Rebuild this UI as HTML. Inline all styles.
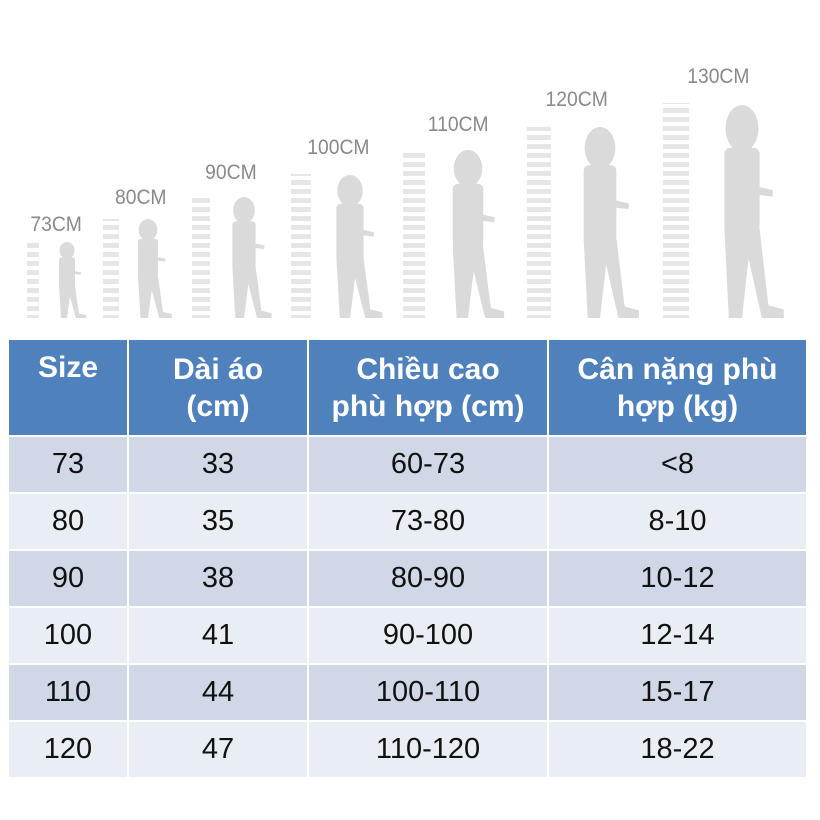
<!DOCTYPE html>
<html><head><meta charset="utf-8"><style>
body{margin:0;width:820px;height:820px;background:#fff;overflow:hidden;position:relative;font-family:"Liberation Sans",sans-serif}
svg{position:absolute;left:0;top:0}
table{position:absolute;left:9px;top:340px;border-collapse:separate;border-spacing:2px 2px;margin:-2px}
td,th{text-align:center;padding:0;font-size:29px;color:#111}
th{background:#4f81bd;color:#fff;font-weight:bold;font-size:30px;height:95px;line-height:37px;vertical-align:middle}
th.t{vertical-align:top;padding-top:9px;height:86px}
tr.a td{background:#d0d8e8}
tr.b td{background:#e9edf4}
td{height:55px}
</style></head><body>
<svg width="820" height="340" viewBox="0 0 820 340">
<defs>
<g id="kid" fill="#dadada">
<ellipse cx="0" cy="11" rx="7.5" ry="11"/>
<rect x="-8" y="20" width="16" height="40" rx="3"/>
<path d="M6 38 L14 40 L14 43 L6 42 Z"/>
<path d="M-8 58 L8 58 L12 94 L19 96 L19 100 L9 100 L3 72 L0 100 L-6 100 Z"/>
</g>
<pattern id="dash" width="40" height="9" patternUnits="userSpaceOnUse">
<rect x="0" y="0" width="40" height="5" fill="#e6e6e6"/>
</pattern>
</defs>
<g font-family="Liberation Sans, sans-serif" font-size="21" fill="#8a8a8a" transform="scale(0.92,1)">
<text x="33" y="231">73CM</text>
<text x="125" y="204">80CM</text>
<text x="223" y="179">90CM</text>
<text x="334" y="154">100CM</text>
<text x="465" y="131">110CM</text>
<text x="593" y="106">120CM</text>
<text x="747" y="83">130CM</text>
</g>
<g fill="url(#dash)">
<rect x="27" y="242" width="12" height="76"/>
<rect x="103" y="219" width="16" height="99"/>
<rect x="192" y="197" width="18" height="121"/>
<rect x="291" y="174" width="20" height="144"/>
<rect x="403" y="150" width="22" height="168"/>
<rect x="527" y="127" width="24" height="191"/>
<rect x="663" y="103" width="26" height="215"/>
</g>
<use href="#kid" transform="translate(67,242) scale(1.0,0.76)"/>
<use href="#kid" transform="translate(148,219) scale(1.25,0.99)"/>
<use href="#kid" transform="translate(244,197) scale(1.45,1.21)"/>
<use href="#kid" transform="translate(350,175) scale(1.7,1.43)"/>
<use href="#kid" transform="translate(468,150) scale(1.9,1.68)"/>
<use href="#kid" transform="translate(600,127) scale(2.05,1.91)"/>
<use href="#kid" transform="translate(742,105) scale(2.2,2.13)"/>
</svg>
<table>
<tr><th class="t" style="width:118px">Size</th><th style="width:178px">Dài áo<br>(cm)</th><th style="width:238px">Chiều cao<br>phù hợp (cm)</th><th style="width:257px">Cân nặng phù<br>hợp (kg)</th></tr>
<tr class="a"><td>73</td><td>33</td><td>60-73</td><td>&lt;8</td></tr>
<tr class="b"><td>80</td><td>35</td><td>73-80</td><td>8-10</td></tr>
<tr class="a"><td>90</td><td>38</td><td>80-90</td><td>10-12</td></tr>
<tr class="b"><td>100</td><td>41</td><td>90-100</td><td>12-14</td></tr>
<tr class="a"><td>110</td><td>44</td><td>100-110</td><td>15-17</td></tr>
<tr class="b"><td>120</td><td>47</td><td>110-120</td><td>18-22</td></tr>
</table>
</body></html>
